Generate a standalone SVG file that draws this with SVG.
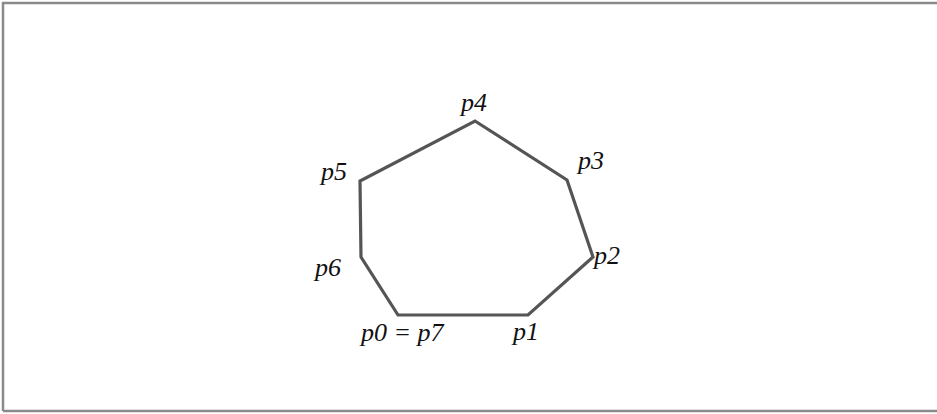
<svg xmlns="http://www.w3.org/2000/svg" width="937" height="414" viewBox="0 0 937 414">
<style>
.lbl{font-family:"Liberation Serif","Times New Roman",serif;font-style:italic;font-size:26px;fill:#111}
.poly{fill:none;stroke:#555;stroke-width:3.2;stroke-linejoin:miter}
.frame{fill:none;stroke:#8a8a8a;stroke-width:2.5}
</style>
<rect width="937" height="414" fill="#fff"/>
<polyline class="frame" points="3,411 3,3 937,3"/>
<line class="frame" x1="3" y1="411" x2="937" y2="411"/>
<g id="polygon">
<polygon class="poly" points="398,315 528,315 593,257 567,180 475,121 360,181 361,257"/>
</g>
<g id="labels">
<text class="lbl" x="461" y="111">p4</text>
<text class="lbl" x="578" y="169">p3</text>
<text class="lbl" x="594" y="264">p2</text>
<text class="lbl" x="513" y="340">p1</text>
<text class="lbl" x="361" y="341">p0 = p7</text>
<text class="lbl" x="315" y="276">p6</text>
<text class="lbl" x="321" y="180">p5</text>
</g>
</svg>
